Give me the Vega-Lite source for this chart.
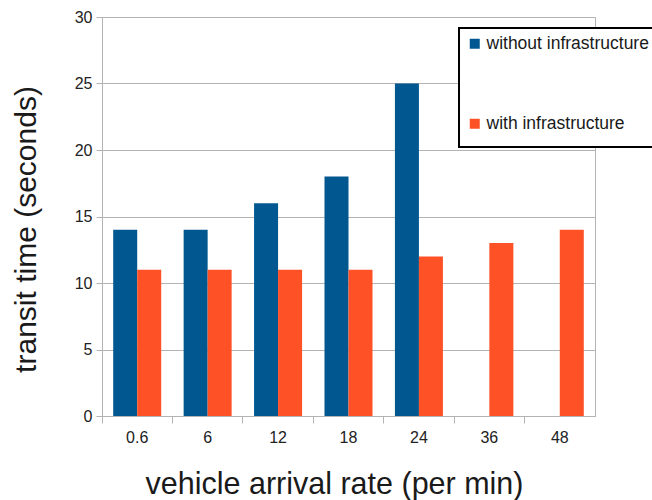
{
  "$schema": "https://vega.github.io/schema/vega-lite/v6.json",
  "width": 493,
  "height": 399,
  "autosize": "none",
  "padding": {"left": 102, "top": 17, "right": 57, "bottom": 84},
  "background": "white",
  "config": {
    "font": "Liberation Sans",
    "view": {"stroke": "#b3b3b3", "strokeWidth": 1}
  },
  "data": {
    "values": [
      {"rate": "0.6", "series": "without infrastructure", "time": 14},
      {"rate": "0.6", "series": "with infrastructure", "time": 11},
      {"rate": "6", "series": "without infrastructure", "time": 14},
      {"rate": "6", "series": "with infrastructure", "time": 11},
      {"rate": "12", "series": "without infrastructure", "time": 16},
      {"rate": "12", "series": "with infrastructure", "time": 11},
      {"rate": "18", "series": "without infrastructure", "time": 18},
      {"rate": "18", "series": "with infrastructure", "time": 11},
      {"rate": "24", "series": "without infrastructure", "time": 25},
      {"rate": "24", "series": "with infrastructure", "time": 12},
      {"rate": "36", "series": "with infrastructure", "time": 13},
      {"rate": "48", "series": "with infrastructure", "time": 14}
    ]
  },
  "mark": {"type": "bar"},
  "encoding": {
    "x": {
      "field": "rate",
      "type": "nominal",
      "scale": {"domain": ["0.6", "6", "12", "18", "24", "36", "48"], "paddingInner": 0, "paddingOuter": 0},
      "axis": {
        "title": "vehicle arrival rate (per min)",
        "titleFontSize": 30.5,
        "titleFontWeight": "normal",
        "titleColor": "#1a1a1a",
        "titlePadding": 24,
        "titleX": 232,
        "labelAngle": 0,
        "labelFontSize": 16,
        "labelColor": "#222222",
        "labelPadding": 6,
        "bandPosition": 0,
        "tickSize": 7,
        "tickColor": "#b3b3b3",
        "domainColor": "#b3b3b3",
        "grid": false
      }
    },
    "xOffset": {
      "field": "series",
      "type": "nominal",
      "scale": {"domain": ["without infrastructure", "with infrastructure"], "paddingInner": 0, "paddingOuter": 0.467}
    },
    "y": {
      "field": "time",
      "type": "quantitative",
      "scale": {"domain": [0, 30]},
      "axis": {
        "title": "transit time (seconds)",
        "titleFontSize": 30,
        "titleFontWeight": "normal",
        "titleColor": "#1a1a1a",
        "titlePadding": 33,
        "titleY": 212,
        "values": [0, 5, 10, 15, 20, 25, 30],
        "labelFontSize": 16,
        "labelColor": "#222222",
        "labelPadding": 4,
        "tickSize": 6,
        "tickColor": "#b3b3b3",
        "domainColor": "#b3b3b3",
        "gridColor": "#b3b3b3",
        "grid": true
      }
    },
    "color": {
      "field": "series",
      "type": "nominal",
      "scale": {"domain": ["without infrastructure", "with infrastructure"], "range": ["#015891", "#ff5126"]},
      "legend": {
        "title": " ",
        "titleOrient": "bottom",
        "titleFontSize": 8,
        "titlePadding": 0,
        "orient": "none",
        "legendX": 357,
        "legendY": 11,
        "padding": 7,
        "rowPadding": 61,
        "strokeColor": "black",
        "fillColor": "white",
        "cornerRadius": 0,
        "symbolType": "square",
        "symbolSize": 100,
        "symbolStrokeWidth": 0,
        "labelFontSize": 17.5,
        "labelColor": "#1a1a1a",
        "labelOffset": 3,
        "labelLimit": 300,
        "encode": {"legend": {"update": {"strokeWidth": {"value": 2}}}}
      }
    }
  }
}
